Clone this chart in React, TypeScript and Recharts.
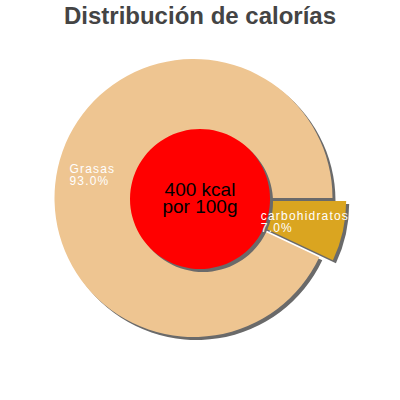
import { PieChart, Pie, Cell } from 'recharts';

const categories = ['carbohidratos', 'Grasas'];
const shares = [7.0, 93.0];
const centerLines = ['400 kcal', 'por 100g'];
const chartTitle = 'Distribución de calorías';

const sliceColors = ['#DAA520', '#EEC591'];
const SHADOW = '#6a6a6a';

const CX = 193.5;
const CY = 198;
const R = 139;
const EXPLODE = 14;
const RADIAN = Math.PI / 180;

const data = categories.map((name, i) => ({ name, value: shares[i] }));

// exploded slice is carbohidratos (index 0), pushed out along its bisector
const carbMid = -(shares[0] / 100) * 360 / 2;
const EX = EXPLODE * Math.cos(-carbMid * RADIAN);
const EY = EXPLODE * Math.sin(-carbMid * RADIAN);

const labelStyle: Record<string, { r: number; dy: number }> = {
  Grasas: { r: 0.9, dy: 2 },
  carbohidratos: { r: 0.41, dy: 7 },
};

function sliceLabel(props: any) {
  const { cx, cy, midAngle, outerRadius, name, percent } = props;
  const s = labelStyle[name];
  const x = cx + outerRadius * s.r * Math.cos(-midAngle * RADIAN);
  const y = cy + outerRadius * s.r * Math.sin(-midAngle * RADIAN);
  return (
    <text
      x={x - 2}
      y={y + s.dy}
      fill="#fff"
      fontSize={12}
      letterSpacing={1.2}
      fontFamily="'Liberation Sans', Arial, sans-serif"
      textAnchor="start"
    >
      <tspan x={x - 2}>{name}</tspan>
      <tspan x={x - 2} dy={12}>{(percent * 100).toFixed(1)}%</tspan>
    </text>
  );
}

function centerLabel(props: any) {
  const { cx, cy } = props;
  return (
    <text
      x={cx}
      y={cy}
      fill="#000"
      fontSize={19}
      fontFamily="'Liberation Sans', Arial, sans-serif"
      textAnchor="middle"
    >
      <tspan x={cx} y={cy - 3}>{centerLines[0]}</tspan>
      <tspan x={cx} dy={17}>{centerLines[1]}</tspan>
    </text>
  );
}

export default function App() {
  const common = {
    data,
    dataKey: 'value',
    nameKey: 'name',
    startAngle: 0,
    endAngle: -360,
    outerRadius: R,
    stroke: 'none',
    isAnimationActive: false,
  };
  return (
    <div style={{ position: 'absolute', left: 0, top: 0, width: 400, height: 400, background: '#fff' }}>
      <div
        style={{
          position: 'absolute',
          top: 3,
          left: 0,
          width: 400,
          textAlign: 'center',
          fontFamily: "'Liberation Sans', Arial, sans-serif",
          fontWeight: 'bold',
          fontSize: 24,
          lineHeight: '26px',
          color: '#444',
        }}
      >
        {chartTitle}
      </div>
      <PieChart width={400} height={400} margin={{ top: 0, right: 0, bottom: 0, left: 0 }}>
        {/* shadows */}
        <Pie {...common} cx={CX + 3} cy={CY + 3}>
          {data.map((d, i) => (
            <Cell key={d.name} fill={i === 0 ? 'none' : SHADOW} />
          ))}
        </Pie>
        <Pie {...common} cx={CX + EX + 3} cy={CY + EY + 3}>
          {data.map((d, i) => (
            <Cell key={d.name} fill={i === 0 ? SHADOW : 'none'} />
          ))}
        </Pie>
        {/* slices */}
        <Pie {...common} cx={CX} cy={CY}>
          {data.map((d, i) => (
            <Cell key={d.name} fill={i === 0 ? 'none' : sliceColors[i]} />
          ))}
        </Pie>
        <Pie {...common} cx={CX + EX} cy={CY + EY}>
          {data.map((d, i) => (
            <Cell key={d.name} fill={i === 0 ? sliceColors[i] : 'none'} />
          ))}
        </Pie>
        {/* center disc */}
        <Pie
          data={[{ name: 'total', value: 1 }]}
          dataKey="value"
          cx={203}
          cy={202}
          outerRadius={70}
          startAngle={0}
          endAngle={360}
          stroke="none"
          fill={SHADOW}
          isAnimationActive={false}
        />
        <Pie
          data={[{ name: 'total', value: 1 }]}
          dataKey="value"
          cx={200}
          cy={199}
          outerRadius={70}
          startAngle={0}
          endAngle={360}
          stroke="none"
          fill="#FF0000"
          label={centerLabel}
          labelLine={false}
          isAnimationActive={false}
        />
        {/* labels on top */}
        <Pie {...common} cx={CX} cy={CY} fill="none" label={(p: any) => (p.index === 1 ? sliceLabel(p) : null)} labelLine={false}>
          {data.map((d) => (
            <Cell key={d.name} fill="none" />
          ))}
        </Pie>
        <Pie {...common} cx={CX + EX} cy={CY + EY} fill="none" label={(p: any) => (p.index === 0 ? sliceLabel(p) : null)} labelLine={false}>
          {data.map((d) => (
            <Cell key={d.name} fill="none" />
          ))}
        </Pie>
      </PieChart>
    </div>
  );
}
